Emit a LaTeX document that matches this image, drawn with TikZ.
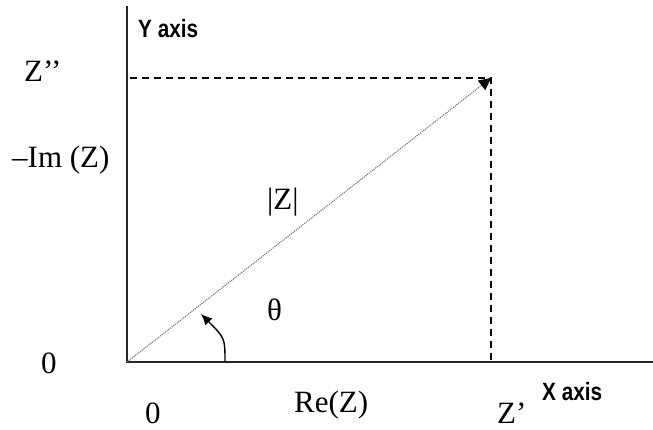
\documentclass[tikz,border=0pt]{standalone}
\usepackage{fontspec}
\setmainfont{Liberation Serif}
\newfontfamily\axisfont{Liberation Sans}
\usepackage{tikz}
\usetikzlibrary{arrows.meta,positioning}

\begin{document}
\begin{tikzpicture}[
  x=1pt,y=-1pt,
  every node/.style={font=\fontsize{31}{34}\selectfont,inner sep=0pt,anchor=base west},
  axislabel/.style={font=\axisfont\bfseries\fontsize{25}{28}\selectfont,xscale=0.83},
  axis/.style={line width=1.4pt,color=black!85},
  guide/.style={dash pattern=on 7pt off 5pt,line width=1.2pt},
  vector/.style={-{Triangle[length=12pt,width=12pt,color=black]},densely dotted,line width=1.1pt,color=black!55},
  anglearrow/.style={-{Latex[length=11pt,width=10pt]},line width=1.4pt}
]
\useasboundingbox (0,0) rectangle (653,430);
\coordinate (origin) at (127,362);
\coordinate (ytop) at (127,6);
\coordinate (xend) at (653,362);
\coordinate (tip) at (491,78);
\coordinate (yproj) at (130,78);
\coordinate (xproj) at (491,362);
\coordinate (arcstart) at (225,362);
\coordinate (arcend) at (201,314);

\draw[axis] (ytop) -- (origin) -- (xend);
\draw[guide] (yproj) -- (tip) -- (xproj);
\draw[vector] (origin) -- (tip);
\draw[anglearrow] (arcstart) .. controls (225,338) .. (arcend);

\node[axislabel] (ylabel) at (138,38) {Y axis};
\node[axislabel] (xlabel) at (542,400) {X axis};
\node (zpp) at (24,82) {Z’’};
\node (imz) at (12,168) {–Im (Z)};
\node (modz) at (267,210) {|Z|};
\node (theta) at (267,320) {θ};
\node (zeroy) at (41,373) {0};
\node (zerox) at (145,423) {0};
\node (rez) at (294,412) {Re(Z)};
\node (zp) at (497,423) {Z’};
\end{tikzpicture}
\end{document}
